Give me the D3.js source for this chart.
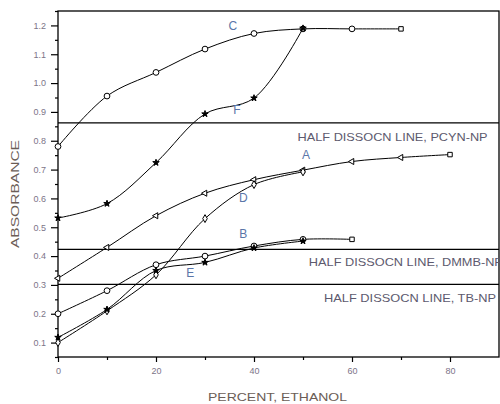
<!DOCTYPE html>
<html>
<head>
<meta charset="utf-8">
<script src="https://cdn.jsdelivr.net/npm/d3@7"></script>
<style>
  body { margin: 0; background: #fff; }
  svg { display: block; font-family: "Liberation Sans", Arial, sans-serif; }
</style>
</head>
<body>
<svg id="chart" width="500" height="404"></svg>
<script>
// percent ethanol for each reading
const pctC = [0, 10, 20, 30, 40, 50, 60, 70];
const absC = [0.78, 0.955, 1.037, 1.118, 1.172, 1.188, 1.188, 1.188];
const pctF = [0, 10, 20, 30, 40, 50];
const absF = [0.532, 0.582, 0.724, 0.893, 0.948, 1.19];
const pctA = [0, 10, 20, 30, 40, 50, 60, 70, 80];
const absA = [0.323, 0.43, 0.54, 0.618, 0.665, 0.698, 0.728, 0.742, 0.752];
const pctD = [0, 10, 20, 30, 40, 50];
const absD = [0.1, 0.21, 0.335, 0.53, 0.648, 0.692];
const pctB = [0, 10, 20, 30, 40, 50, 60];
const absB = [0.2, 0.28, 0.37, 0.4, 0.435, 0.458, 0.458];
const pctE = [0, 10, 20, 30, 40, 50];
const absE = [0.118, 0.215, 0.35, 0.378, 0.428, 0.452];

const seriesNames = ["C", "F", "A", "D", "B", "E"];
const labelPct = [35.7, 36.5, 50.6, 37.8, 37.8, 27];
const labelAbs = [1.197, 0.905, 0.752, 0.6, 0.478, 0.34];

// half dissociation reference lines
const halfLevels = [0.862, 0.423, 0.302];
const halfNames = ["HALF DISSOCN LINE, PCYN-NP", "HALF DISSOCN LINE, DMMB-NP", "HALF DISSOCN LINE, TB-NP"];
const halfLabelPct = [48.9, 51.2, 54.3];
const halfLabelAbs = [0.812, 0.378, 0.256];
const halfLabelWidth = [190, 194, 172];

const xTicks = [0, 20, 40, 60, 80];
const yTicks = [0.1, 0.2, 0.3, 0.4, 0.5, 0.6, 0.7, 0.8, 0.9, 1.0, 1.1, 1.2];

const svg = d3.select("#chart");
const mLeft = 58, mRight = 499, mTop = 11, mBottom = 357;

const x = d3.scaleLinear().domain([0, 90]).range([mLeft, mRight]);
const y = d3.scaleLinear().domain([0.05, 1.25]).range([mBottom, mTop]);

const tickColor = "#7c7488";
const textColor = "#6b5d56";
const letterColor = "#5a76a8";

// minor ticks
svg.append("g")
  .attr("transform", `translate(0,${mBottom})`)
  .call(d3.axisBottom(x).tickValues([10, 30, 50, 70]).tickSize(3).tickFormat(""))
  .call(g => g.select(".domain").remove());
svg.append("g")
  .attr("transform", `translate(${mLeft},0)`)
  .call(d3.axisLeft(y).tickValues(d3.range(0.05, 1.26, 0.1)).tickSize(3).tickFormat(""))
  .call(g => g.select(".domain").remove());

// major axes
const xAxis = svg.append("g")
  .attr("transform", `translate(0,${mBottom})`)
  .call(d3.axisBottom(x).tickValues(xTicks).tickSize(5).tickPadding(6).tickFormat(d3.format("d")));
const yAxis = svg.append("g")
  .attr("transform", `translate(${mLeft},0)`)
  .call(d3.axisLeft(y).tickValues(yTicks).tickSize(7).tickPadding(5).tickFormat(d3.format(".1f")));

[xAxis, yAxis].forEach(g => {
  g.select(".domain").remove();
  g.selectAll("text").attr("fill", tickColor).style("font-size", "9px");
});
svg.selectAll(".tick line").attr("stroke", "#000").attr("stroke-width", 1.2);

// frame
svg.append("rect")
  .attr("x", mLeft).attr("y", mTop)
  .attr("width", mRight - mLeft).attr("height", mBottom - mTop)
  .attr("fill", "none").attr("stroke", "#000").attr("stroke-width", 1.3);

// half dissociation lines
svg.append("g").selectAll("line")
  .data(halfLevels)
  .join("line")
  .attr("x1", mLeft).attr("x2", mRight)
  .attr("y1", d => y(d)).attr("y2", d => y(d))
  .attr("stroke", "#000").attr("stroke-width", 1.2);

svg.append("g").selectAll("text")
  .data(halfNames)
  .join("text")
  .attr("x", (d, i) => x(halfLabelPct[i]))
  .attr("y", (d, i) => y(halfLabelAbs[i]))
  .attr("dominant-baseline", "central")
  .attr("fill", "#5d5a6e")
  .attr("textLength", (d, i) => halfLabelWidth[i])
  .attr("lengthAdjust", "spacingAndGlyphs")
  .style("font-size", "10.5px")
  .text(d => d);

// curves
const series = [
  { pct: pctC, abs: absC, sym: d3.symbolCircle, size: 26, endSquare: true },
  { pct: pctF, abs: absF, sym: d3.symbolStar, size: 13, endSquare: false },
  { pct: pctA, abs: absA, sym: d3.symbolTriangle, size: 16, endSquare: true },
  { pct: pctD, abs: absD, sym: d3.symbolDiamond, size: 18, endSquare: false },
  { pct: pctB, abs: absB, sym: d3.symbolCircle, size: 26, endSquare: true },
  { pct: pctE, abs: absE, sym: d3.symbolStar, size: 13, endSquare: false }
];

const line = d3.line()
  .x(d => x(d[0]))
  .y(d => y(d[1]))
  .curve(d3.curveCatmullRom.alpha(0.5));

const plot = svg.append("g");

series.forEach(s => {
  const pts = s.pct.map((p, i) => [p, s.abs[i]]);
  plot.append("path")
    .datum(pts)
    .attr("d", line)
    .attr("fill", "none")
    .attr("stroke", "#000")
    .attr("stroke-width", 1);

  plot.append("g").selectAll("path")
    .data(pts)
    .join("path")
    .attr("transform", d => `translate(${x(d[0])},${y(d[1])})` + (s.sym === d3.symbolTriangle ? " rotate(-90)" : ""))
    .attr("d", (d, i) => {
      const last = s.endSquare && i === pts.length - 1;
      return d3.symbol().type(last ? d3.symbolSquare : s.sym).size(last ? 20 : s.size)();
    })
    .attr("fill", s.sym === d3.symbolStar ? "#000" : "#fff")
    .attr("stroke", "#000")
    .attr("stroke-width", 1);
});

// series letters
svg.append("g").selectAll("text")
  .data(seriesNames)
  .join("text")
  .attr("x", (d, i) => x(labelPct[i]))
  .attr("y", (d, i) => y(labelAbs[i]))
  .attr("text-anchor", "middle")
  .attr("dominant-baseline", "central")
  .attr("fill", letterColor)
  .style("font-size", "12px")
  .text(d => d);

// axis titles
svg.append("text")
  .attr("x", 208)
  .attr("y", 397)
  .attr("dominant-baseline", "central")
  .attr("fill", textColor)
  .attr("textLength", 139)
  .attr("lengthAdjust", "spacingAndGlyphs")
  .style("font-size", "11px")
  .text("PERCENT, ETHANOL");

svg.append("text")
  .attr("transform", "translate(15,248) rotate(-90)")
  .attr("dominant-baseline", "central")
  .attr("fill", textColor)
  .attr("textLength", 108)
  .attr("lengthAdjust", "spacingAndGlyphs")
  .style("font-size", "11px")
  .text("ABSORBANCE");
</script>
</body>
</html>
